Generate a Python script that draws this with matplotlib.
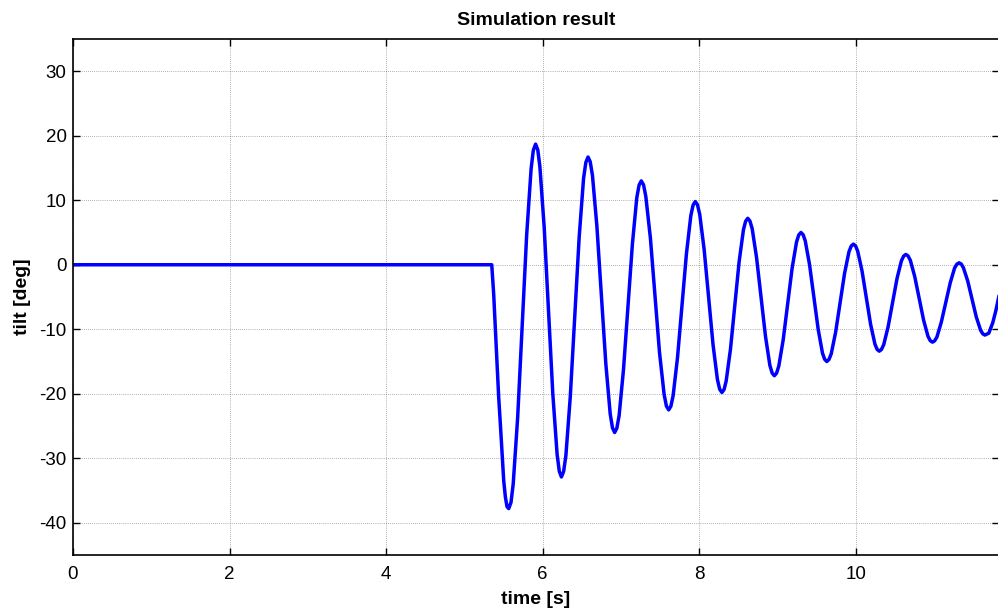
import matplotlib
matplotlib.use("Agg")
import matplotlib.pyplot as plt

# tilt response (time in s, tilt in deg)
time_s = [
    0.0, 5.35,
    5.375, 5.396, 5.418, 5.439, 5.46, 5.482, 5.503, 5.524, 5.545, 5.567,
    5.596, 5.624, 5.681, 5.739, 5.796, 5.853, 5.881, 5.91,
    5.938, 5.965, 6.02, 6.075, 6.13, 6.185, 6.213, 6.24,
    6.268, 6.297, 6.353, 6.41, 6.467, 6.523, 6.552, 6.58,
    6.608, 6.637, 6.693, 6.75, 6.807, 6.863, 6.892, 6.92,
    6.948, 6.977, 7.033, 7.09, 7.147, 7.203, 7.232, 7.26,
    7.289, 7.318, 7.377, 7.435, 7.493, 7.552, 7.581, 7.61,
    7.638, 7.667, 7.723, 7.78, 7.837, 7.893, 7.922, 7.95,
    7.978, 8.007, 8.063, 8.12, 8.177, 8.233, 8.262, 8.29,
    8.318, 8.345, 8.40, 8.455, 8.51, 8.565, 8.593, 8.62,
    8.648, 8.677, 8.733, 8.79, 8.847, 8.903, 8.932, 8.96,
    8.988, 9.017, 9.073, 9.13, 9.187, 9.243, 9.272, 9.30,
    9.328, 9.355, 9.41, 9.465, 9.52, 9.575, 9.603, 9.63,
    9.658, 9.687, 9.743, 9.80, 9.857, 9.913, 9.942, 9.97,
    9.998, 10.025, 10.08, 10.135, 10.19, 10.245, 10.273, 10.30,
    10.328, 10.357, 10.413, 10.47, 10.527, 10.583, 10.612, 10.64,
    10.668, 10.697, 10.753, 10.81, 10.867, 10.923, 10.952, 10.98,
    11.008, 11.037, 11.093, 11.15, 11.207, 11.263, 11.292, 11.32,
    11.348, 11.375, 11.43, 11.485, 11.54, 11.595, 11.623, 11.65,
    11.70, 11.75, 11.79, 11.83,
]
tilt_deg = [
    0.0, 0.0,
    -4.6, -10.0, -15.4, -20.6, -24.7, -29.3, -33.5, -36.0, -37.5, -37.8,
    -36.84, -34.0, -23.7, -9.55, 4.6, 14.9, 17.74, 18.7,
    17.82, 15.2, 5.8, -7.1, -20.0, -29.4, -32.02, -32.9,
    -32.06, -29.6, -20.5, -8.1, 4.3, 13.4, 15.86, 16.7,
    15.97, 13.8, 6.0, -4.65, -15.3, -23.1, -25.27, -26.0,
    -25.34, -23.4, -16.25, -6.5, 3.25, 10.4, 12.34, 13.0,
    12.4, 10.6, 4.1, -4.75, -13.6, -20.1, -21.9, -22.5,
    -21.95, -20.3, -14.4, -6.35, 1.7, 7.6, 9.25, 9.8,
    9.3, 7.8, 2.4, -5.0, -12.4, -17.8, -19.3, -19.8,
    -19.34, -18.0, -13.05, -6.3, 0.45, 5.4, 6.74, 7.2,
    6.79, 5.6, 1.1, -5.0, -11.1, -15.6, -16.79, -17.2,
    -16.82, -15.7, -11.65, -6.1, -0.55, 3.5, 4.62, 5.0,
    4.66, 3.7, 0.0, -5.0, -10.0, -13.7, -14.66, -15.0,
    -14.69, -13.8, -10.45, -5.9, -1.35, 2.0, 2.89, 3.2,
    2.92, 2.1, -0.95, -5.1, -9.25, -12.3, -13.12, -13.4,
    -13.14, -12.4, -9.65, -5.9, -2.15, 0.6, 1.34, 1.6,
    1.37, 0.7, -1.8, -5.2, -8.6, -11.1, -11.77, -12.0,
    -11.79, -11.2, -8.9, -5.85, -2.8, -0.5, 0.09, 0.3,
    0.11, -0.45, -2.5, -5.3, -8.1, -10.15, -10.71, -10.9,
    -10.6, -9.0, -7.1, -4.8,
]

x_ticks = [0, 2, 4, 6, 8, 10]
y_ticks = [-40, -30, -20, -10, 0, 10, 20, 30]

plt.rcParams['font.family'] = ['Liberation Sans', 'DejaVu Sans']
plt.rcParams['axes.unicode_minus'] = False

fig = plt.figure(figsize=(9.98, 6.12), dpi=100)
ax = fig.add_axes([0.0731, 0.0931, 0.9279, 0.8432])

ax.plot(time_s, tilt_deg, color='#0000ff', linewidth=2.5,
        solid_joinstyle='round', solid_capstyle='round')

ax.set_xlim(0, 11.83)
ax.set_ylim(-45, 35)
ax.set_xticks(x_ticks)
ax.set_yticks(y_ticks)
ax.tick_params(direction='in', length=5, width=1, top=True, right=True,
               labelsize=13.5)
ax.tick_params(axis='x', pad=8)
ax.tick_params(axis='y', pad=4.5)
ax.grid(True, color='black', linestyle=(0, (1, 2)), linewidth=0.5, alpha=0.6)
for s in ax.spines.values():
    s.set_linewidth(1.2)

ax.set_title('Simulation result', fontsize=14, fontweight='bold', pad=10)
ax.set_xlabel('time [s]', fontsize=14, fontweight='bold', labelpad=6)
ax.set_ylabel('tilt [deg]', fontsize=14, fontweight='bold', labelpad=6)

fig.savefig('out.png', dpi=100)
